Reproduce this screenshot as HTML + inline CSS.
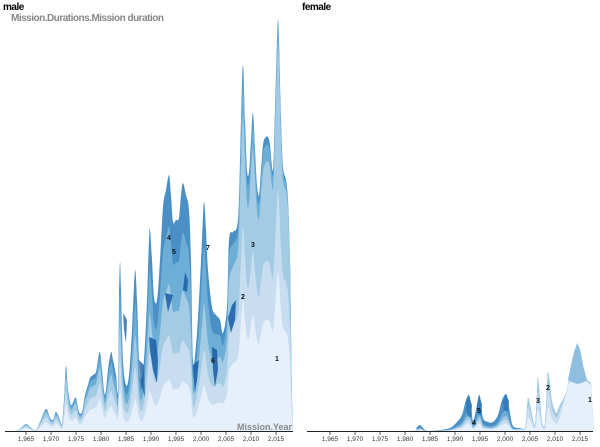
<!DOCTYPE html>
<html>
<head>
<meta charset="utf-8">
<style>
  html,body{margin:0;padding:0;background:#fff;}
  svg{display:block;font-family:"Liberation Sans",Arial,sans-serif;}
  .tl{font-size:6.5px;fill:#333;text-anchor:middle;}
  .lb{font-size:7px;font-weight:bold;fill:#111;text-anchor:middle;}
</style>
</head>
<body>
<svg id="c" xmlns="http://www.w3.org/2000/svg" width="600" height="447" viewBox="0 0 600 447">
  <rect width="600" height="447" fill="#fff"/>
  <g id="m"></g>
  <g id="f"></g>
  <g id="extra"></g>

  <!-- titles -->
  <text x="3" y="10" font-size="10" font-weight="bold" letter-spacing="-0.5" fill="#000">male</text>
  <text x="11" y="21" font-size="10" font-weight="bold" letter-spacing="-0.5" fill="#888">Mission.Durations.Mission duration</text>
  <text x="302" y="10" font-size="10" font-weight="bold" letter-spacing="-0.5" fill="#000">female</text>
  <text x="292" y="430" font-size="9" font-weight="bold" fill="#888" text-anchor="end">Mission.Year</text>

  <!-- axes -->
  <line x1="5" y1="431.5" x2="293" y2="431.5" stroke="#222" stroke-width="1"/>
  <line x1="307" y1="431.5" x2="593" y2="431.5" stroke="#222" stroke-width="1"/>
  <g stroke="#333" stroke-width="0.8">
    <line x1="26" y1="432" x2="26" y2="435"/><line x1="51" y1="432" x2="51" y2="435"/>
    <line x1="76" y1="432" x2="76" y2="435"/><line x1="101" y1="432" x2="101" y2="435"/>
    <line x1="126" y1="432" x2="126" y2="435"/><line x1="151" y1="432" x2="151" y2="435"/>
    <line x1="176" y1="432" x2="176" y2="435"/><line x1="201" y1="432" x2="201" y2="435"/>
    <line x1="226" y1="432" x2="226" y2="435"/><line x1="251" y1="432" x2="251" y2="435"/>
    <line x1="276" y1="432" x2="276" y2="435"/>
    <line x1="330" y1="432" x2="330" y2="435"/><line x1="355" y1="432" x2="355" y2="435"/>
    <line x1="380" y1="432" x2="380" y2="435"/><line x1="405" y1="432" x2="405" y2="435"/>
    <line x1="430" y1="432" x2="430" y2="435"/><line x1="455" y1="432" x2="455" y2="435"/>
    <line x1="480" y1="432" x2="480" y2="435"/><line x1="505" y1="432" x2="505" y2="435"/>
    <line x1="530" y1="432" x2="530" y2="435"/><line x1="555" y1="432" x2="555" y2="435"/>
    <line x1="580" y1="432" x2="580" y2="435"/>
  </g>
  <g>
    <text class="tl" x="26" y="441">1,965</text><text class="tl" x="51" y="441">1,970</text>
    <text class="tl" x="76" y="441">1,975</text><text class="tl" x="101" y="441">1,980</text>
    <text class="tl" x="126" y="441">1,985</text><text class="tl" x="151" y="441">1,990</text>
    <text class="tl" x="176" y="441">1,995</text><text class="tl" x="201" y="441">2,000</text>
    <text class="tl" x="226" y="441">2,005</text><text class="tl" x="251" y="441">2,010</text>
    <text class="tl" x="276" y="441">2,015</text>
    <text class="tl" x="330" y="441">1,965</text><text class="tl" x="355" y="441">1,970</text>
    <text class="tl" x="380" y="441">1,975</text><text class="tl" x="405" y="441">1,980</text>
    <text class="tl" x="430" y="441">1,985</text><text class="tl" x="455" y="441">1,990</text>
    <text class="tl" x="480" y="441">1,995</text><text class="tl" x="505" y="441">2,000</text>
    <text class="tl" x="530" y="441">2,005</text><text class="tl" x="555" y="441">2,010</text>
    <text class="tl" x="580" y="441">2,015</text>
  </g>

  <!-- series labels -->
  <g>
    <text class="lb" x="277" y="361">1</text>
    <text class="lb" x="243" y="299">2</text>
    <text class="lb" x="253" y="247">3</text>
    <text class="lb" x="169" y="240">4</text>
    <text class="lb" x="174" y="254">5</text>
    <text class="lb" x="213" y="363">6</text>
    <text class="lb" x="208" y="250">7</text>
    <text class="lb" x="590" y="402">1</text>
    <text class="lb" x="548" y="390">2</text>
    <text class="lb" x="538" y="403">3</text>
    <text class="lb" x="474" y="425">4</text>
    <text class="lb" x="479" y="413">5</text>
  </g>
</svg>
<script>
(function(){
var NS='http://www.w3.org/2000/svg';
var BASE=431;
var male=[[5,431],[15,431],[20,429],[26,424],[31,428],[36,430],[40,422],[46,409],[50,418],[53,420],[56,412],[60,420],[62,424],[64,400],[66,366],[68,390],[71,405],[74,400],[76,398],[79,412],[82,412],[85,395],[88,385],[90,378],[93,375],[96,372],[98,360],[100,352],[102,370],[105,395],[108,370],[111,352],[113,360],[116,375],[118,390],[119,300],[120,262],[121,290],[123,360],[126,385],[129,375],[132,330],[135,271],[137,300],[139,360],[141,380],[144,360],[147,300],[149,240],[150,230],[152,260],[154,297],[157,300],[160,260],[163,207],[166,190],[169,175],[171,195],[173,222],[176,220],[179,218],[181,195],[183,183],[186,195],[189,210],[191,260],[193,360],[196,345],[199,300],[202,240],[204,202],[206,230],[208,270],[212,307],[216,315],[220,320],[223,333],[227,307],[229,240],[233,232],[237,227],[239,200],[241,120],[243,65],[245,120],[247,170],[249,172],[251,140],[253,113],[255,150],[257,185],[259,195],[261,170],[263,145],[265,138],[268,137],[270,145],[273,170],[275,110],[277,40],[278,20],[279,40],[281,120],[283,167],[286,180],[288,200],[290,260],[291,330],[292,400],[293,431]];
var maleA=[[5,[0.4,0.65,0.85,0.95]],[100,[0.4,0.6,0.8,0.92]],[125,[0.2,0.4,0.6,0.8]],[210,[0.2,0.35,0.55,0.8]],[235,[0.35,0.55,0.85,0.95]],[293,[0.4,0.6,0.97,0.99]]];
var female=[[307,431],[410,431],[416,428],[420,425],[424,429],[428,431],[440,430],[450,428],[457,422],[462,415],[466,400],[469,395],[471,405],[473,421],[476,410],[479,395],[481,402],[483,418],[488,422],[493,422],[498,415],[502,400],[506,394],[508,400],[510,413],[513,426],[520,428],[525,428],[527,410],[528,398],[530,405],[532,415],[535,425],[537,395],[538,378],[540,400],[542,422],[545,424],[547,390],[548,372],[550,385],[552,402],[556,413],[558,410],[560,405],[564,398],[567,390],[569,381],[573,381],[577,382],[581,381],[586,380],[589,382],[591,385],[592,400],[594,431]];
var femA=[[307,[0.2,0.3,0.4,0.55]],[515,[0.2,0.3,0.4,0.55]],[524,[0.4,0.75,1,1]],[558,[0.4,0.75,1,1]],[565,[0.97,0.98,0.99,1]],[594,[0.97,0.98,0.99,1]]];
var cols=['#4a90c6','#6caed6','#a3cbe4','#c9ddf0','#e6f0fa'];

function lerpA(an,x){
  if(x<=an[0][0]) return an[0][1];
  for(var i=1;i<an.length;i++){
    if(x<=an[i][0]){var a=an[i-1],b=an[i],t=(x-a[0])/(b[0]-a[0]);
      return a[1].map(function(v,j){return v+(b[1][j]-v)*t;});}
  }
  return an[an.length-1][1];
}
function sp(pts,base){
  var d='M'+pts[0][0]+','+base+'L'+pts[0][0]+','+pts[0][1].toFixed(1);
  for(var i=0;i<pts.length-1;i++){
    var p0=pts[Math.max(0,i-1)],p1=pts[i],p2=pts[i+1],p3=pts[Math.min(pts.length-1,i+2)];
    var t=1/6;
    var c1x=p1[0]+(p2[0]-p0[0])*t,c1y=Math.min(base,p1[1]+(p2[1]-p0[1])*t);
    var c2x=p2[0]-(p3[0]-p1[0])*t,c2y=Math.min(base,p2[1]-(p3[1]-p1[1])*t);
    d+='C'+c1x.toFixed(1)+','+c1y.toFixed(1)+' '+c2x.toFixed(1)+','+c2y.toFixed(1)+' '+p2[0]+','+p2[1].toFixed(1);
  }
  d+='L'+pts[pts.length-1][0]+','+base+'Z';
  return d;
}
function draw(g,env,an){
  var fr=env.map(function(p){return lerpA(an,p[0]);});
  var lv=[function(){return 1;},function(i){return fr[i][3];},function(i){return fr[i][2];},function(i){return fr[i][1];},function(i){return fr[i][0];}];
  lv.forEach(function(f,k){
    var pts=env.map(function(p,i){return [p[0],BASE-(BASE-p[1])*f(i)];});
    var path=document.createElementNS(NS,'path');
    path.setAttribute('d',sp(pts,BASE));
    path.setAttribute('fill',cols[k]);
    g.appendChild(path);
  });
}
function poly(g,pts,fill,op){
  var p=document.createElementNS(NS,'polygon');
  p.setAttribute('points',pts);
  p.setAttribute('fill',fill);
  if(op) p.setAttribute('fill-opacity',op);
  g.appendChild(p);
}
draw(document.getElementById('m'),male,maleA);
draw(document.getElementById('f'),female,femA);
var ex=document.getElementById('extra');
var dk='#1f63a9';
poly(ex,'149,337 156,340 158,360 157,383 153,370 150,350',dk,0.9);
poly(ex,'165,293 173,295 170,305 168,312 166,300',dk,0.9);
poly(ex,'183,290 185,272 188,280 187,292',dk,0.9);
poly(ex,'193,365 199,360 197,380 195,393',dk,0.9);
poly(ex,'212,347 217,350 218,370 215,387 213,370',dk,0.9);
poly(ex,'228,318 232,305 236,300 235,320 231,333',dk,0.9);
poly(ex,'123,313 127,320 126,343 124,330',dk,0.8);
poly(ex,'139,360 144,365 145,397 141,385',dk,0.8);
/* female diamond */
poly(ex,'568,380 571,365 574,352 577,343 580,349 583,365 587,380 582,383 577,384 572,382','#8fbfe0');
/* female dark accents */
poly(ex,'466,402 469,396 472,405 471,418 467,415','#2f78b8',0.85);
poly(ex,'477,405 479,396 482,404 481,416 478,414','#2f78b8',0.85);
poly(ex,'503,402 506,395 509,401 508,412 504,410','#2f78b8',0.85);
})();
</script>
</body>
</html>
